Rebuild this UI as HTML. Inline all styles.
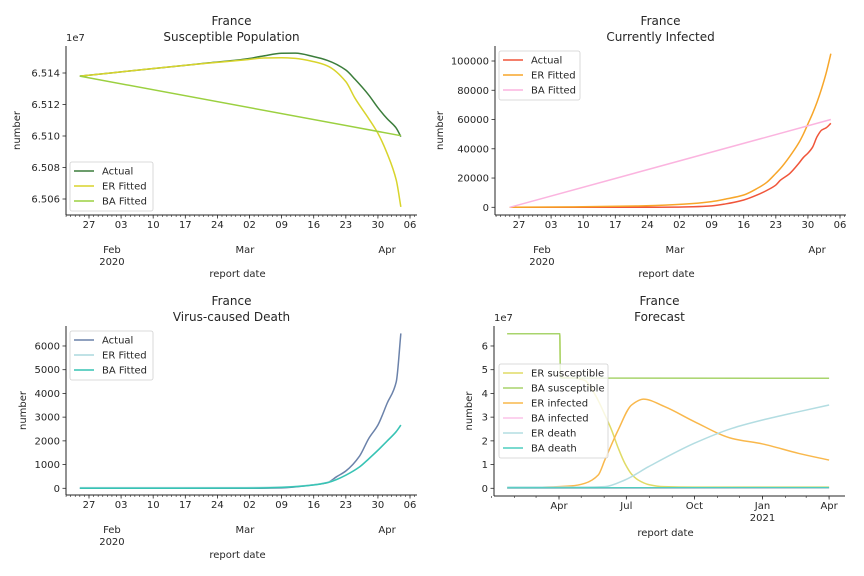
<!DOCTYPE html>
<html><head><meta charset="utf-8">
<style>
body{margin:0;background:#fff;}
svg{display:block;font-family:"DejaVu Sans","Liberation Sans",sans-serif;}
</style></head>
<body>
<svg id="chart" width="864" height="576" viewBox="0 0 864 576" xmlns="http://www.w3.org/2000/svg"></svg>
<script>
// ---- data ----
const suscDates = ['01-25','02-01','02-08','02-15','02-22','03-01','03-05','03-09','03-12','03-16','03-19','03-23','03-25','03-28','03-30','04-01','04-03','04-04'];
const suscActual = [65138000,65140100,65142200,65144300,65146400,65148800,65150800,65152500,65152600,65150400,65148000,65141900,65136000,65126000,65118000,65111000,65105000,65099600];
const suscER = [65138000,65140100,65142200,65144300,65146300,65148300,65149500,65149700,65149300,65147200,65144500,65134500,65124000,65111000,65101700,65089000,65072000,65055000];
const suscBADates = ['01-25','04-04'];
const suscBA = [65138000,65100200];

const infDates = ['01-25','02-08','02-22','03-01','03-05','03-09','03-12','03-16','03-19','03-21','03-23','03-24','03-26','03-28','03-29','03-30','03-31','04-01','04-02','04-03','04-04'];
const infActual = [0,0,0,100,400,1000,2300,5000,8500,11500,15200,18500,23000,30000,34000,37000,41000,48300,52800,54400,57400];
const infER = [0,300,900,1800,2600,3900,5600,8400,13000,17000,23200,26500,34600,44000,50000,57000,64000,72000,81300,92000,105000];
const infBADates = ['01-25','04-04'];
const infBA = [0,60000];

const deathDates = ['01-25','02-15','03-01','03-09','03-16','03-19','03-21','03-23','03-26','03-28','03-30','04-01','04-03','04-04'];
const deathActual = [0,0,0,20,150,240,490,730,1360,2100,2670,3580,4490,6530];
const deathER = [30,30,30,50,150,250,380,560,910,1250,1615,2000,2400,2670];
const deathBA = [0,0,5,40,140,240,370,550,900,1240,1600,1990,2390,2660];

const fcERSDates = ['2020-01-22','2020-04-02','2020-04-03','2020-04-20','2020-05-06','2020-05-15','2020-05-24','2020-06-02','2020-06-11','2020-06-20','2020-06-29','2020-07-08','2020-07-17','2020-08-01','2020-08-20','2020-10-01','2021-04-01'];
const fcERS = [65140000,65140000,47000000,46500000,45500000,42000000,37000000,31000000,24600000,17000000,10500000,6000000,3500000,1500000,700000,500000,500000];
const fcBASDates = ['2020-01-22','2020-04-02','2020-04-03','2021-04-01'];
const fcBAS = [65140000,65140000,46500000,46400000];
const fcERIDates = ['2020-01-22','2020-04-18','2020-05-06','2020-05-24','2020-06-02','2020-06-20','2020-07-08','2020-07-24','2020-08-22','2020-10-01','2020-11-21','2021-01-01','2021-02-19','2021-04-01'];
const fcERI = [0,1000000,2100000,5600000,12000000,24600000,35100000,37600000,34400000,28100000,21000000,18700000,14700000,11900000];
const fcBAIDates = ['2020-01-22','2021-04-01'];
const fcBAI = [0,100000];
const fcERDDates = ['2020-01-22','2020-05-06','2020-06-02','2020-06-29','2020-07-31','2020-10-01','2020-11-21','2021-01-01','2021-02-19','2021-04-01'];
const fcERD = [500000,500000,700000,3500000,9100000,19000000,25300000,28800000,32300000,35100000];
const fcBADDates = ['2020-01-22','2021-04-01'];
const fcBAD = [200000,300000];

// ---- helpers ----
const svg = document.getElementById('chart');
const NS = 'http://www.w3.org/2000/svg';
function mk(tag, attrs, parent){const e=document.createElementNS(NS,tag);for(const k in attrs)e.setAttribute(k,attrs[k]);(parent||svg).appendChild(e);return e;}
function txt(x,y,s,anchor,size,parent){const t=mk('text',{x:x,y:y,'text-anchor':anchor||'middle','font-size':size||10,fill:'#262626'},parent);t.textContent=s;return t;}
function doy(s){const p=s.split('-').map(Number);let y,m,d;if(p.length===3){[y,m,d]=p;}else{y=2020;[m,d]=p;}return (Date.UTC(y,m-1,d)-Date.UTC(2020,0,1))/86400000;}

// monotone cubic path (no overshoot)
function monoPath(P){
  const n=P.length; if(n<3) return 'M'+P.map(p=>p[0].toFixed(2)+','+p[1].toFixed(2)).join(' L');
  const dx=[],dy=[],m=[],t=[];
  for(let i=0;i<n-1;i++){dx.push(P[i+1][0]-P[i][0]);dy.push(P[i+1][1]-P[i][1]);m.push(dy[i]/dx[i]);}
  t[0]=m[0];t[n-1]=m[n-2];
  for(let i=1;i<n-1;i++){ if(m[i-1]*m[i]<=0) t[i]=0; else { const w1=2*dx[i]+dx[i-1], w2=dx[i]+2*dx[i-1]; t[i]=(w1+w2)/(w1/m[i-1]+w2/m[i]); } }
  let d='M'+P[0][0].toFixed(2)+','+P[0][1].toFixed(2);
  for(let i=0;i<n-1;i++){const h=dx[i]/3;
    d+=' C'+(P[i][0]+h).toFixed(2)+','+(P[i][1]+t[i]*h).toFixed(2)+' '+(P[i+1][0]-h).toFixed(2)+','+(P[i+1][1]-t[i+1]*h).toFixed(2)+' '+P[i+1][0].toFixed(2)+','+P[i+1][1].toFixed(2);}
  return d;
}

function panel(cfg){
  const g = mk('g',{});
  
  
  const {L,R,T,B} = cfg;
  const xs = cfg.xs, ys = cfg.ys;
  const t1 = txt((L+R)/2 - 10, cfg.titleY, 'France', 'middle', 12, g);
  
  
  const t2 = txt((L+R)/2 - 10, cfg.titleY+16, cfg.title, 'middle', 12, g);
  
  
  cfg.yTicks.forEach((v,i)=>{
    const y = ys(v);
    mk('line',{x1:L-3.5,x2:L,y1:y,y2:y,stroke:'#262626','stroke-width':0.8},g);
    const lb = txt(L-6, y+3.5, cfg.yTickLabels[i], 'end', 10, g);
    
    
  });
  if(cfg.offset){const o=txt(L,T-5,cfg.offset,'start',10,g);}
  const yl = txt(0,0,'number','middle',10,g);
  yl.setAttribute('transform','translate('+(cfg.yLabelX)+','+((T+B)/2)+') rotate(-90)');
  
  
  cfg.minor.forEach(d=>{const x=xs(d);mk('line',{x1:x,x2:x,y1:B,y2:B+2,stroke:'#262626','stroke-width':0.6},g);});
  cfg.major.forEach((d,i)=>{const x=xs(d);mk('line',{x1:x,x2:x,y1:B,y2:B+3.5,stroke:'#262626','stroke-width':0.8},g);
    const lb=txt(x,B+13,cfg.majorLabels[i],'middle',10,g);
    
    
    if(cfg.majorSub && cfg.majorSub[i]){txt(x,B+25,cfg.majorSub[i],'middle',10,g);}
  });
  (cfg.months||[]).forEach((m,i)=>{const x=xs(m.d);
    const lb=txt(x,B+38,m.l,'middle',10,g);
    
    
    if(m.s) txt(x,B+50,m.s,'middle',10,g);
  });
  const xl = txt((L+R)/2-4, cfg.xLabelY, 'report date','middle',10,g);
  
  
  cfg.series.forEach(s=>{
    const P = s.dates.map((d,i)=>[xs(doy(d)), ys(s.vals[i])]);
    const pl = mk('path',{d:monoPath(P),fill:'none',stroke:s.color,'stroke-width':1.5,'stroke-linejoin':'round'},g);
    
    
  });
  mk('line',{x1:L,x2:L,y1:T,y2:B,stroke:'#262626','stroke-width':1},g);
  mk('line',{x1:L,x2:R,y1:B,y2:B,stroke:'#262626','stroke-width':1},g);
  const lg = mk('g',{},g);
  
  
  const n = cfg.series.length;
  mk('rect',{x:cfg.lgX,y:cfg.lgY,width:cfg.lgW,height:n*15+4,fill:'#fff','fill-opacity':0.8,stroke:'#d0d0d0','stroke-width':0.8,rx:2},lg);
  cfg.series.forEach((s,i)=>{
    const y = cfg.lgY+9+i*15;
    mk('line',{x1:cfg.lgX+4,x2:cfg.lgX+24,y1:y,y2:y,stroke:s.color,'stroke-width':1.5},lg);
    const lb = txt(cfg.lgX+32,y+3.5,s.label,'start',10,lg);
    
    
  });
}

const dayMinor=[];for(let d=21;d<=97;d++)dayMinor.push(d);
const weekMajor=[26,33,40,47,54,61,68,75,82,89,96];
const weekLabels=['27','03','10','17','24','02','09','16','23','30','06'];
const months=[{d:31,l:'Feb',s:'2020'},{d:60,l:'Mar'},{d:91,l:'Apr'}];
const PXD = 4.586;

panel({name:'susceptible-panel',L:66,R:417,T:46,B:215,titleY:25,title:'Susceptible Population',
  xs:d=>89+(d-26)*PXD, ys:v=>73+(65140000-v)/1000*1.575,
  yTicks:[65140000,65120000,65100000,65080000,65060000], yTickLabels:['6.514','6.512','6.510','6.508','6.506'],
  offset:'1e7', yLabelX:20, minor:dayMinor, major:weekMajor, majorLabels:weekLabels, months:months, xLabelY:277,
  lgX:70,lgY:162,lgW:83,
  series:[{id:'line-actual-susceptible',label:'Actual',color:'#3b7d3b',dates:suscDates,vals:suscActual},
          {id:'line-er-fitted-susceptible',label:'ER Fitted',color:'#d8d42c',dates:suscDates,vals:suscER},
          {id:'line-ba-fitted-susceptible',label:'BA Fitted',color:'#9bd040',dates:suscBADates,vals:suscBA}]});

panel({name:'infected-panel',L:495,R:846,T:46,B:215,titleY:25,title:'Currently Infected',
  xs:d=>519+(d-26)*PXD, ys:v=>207.3-v*0.001463,
  yTicks:[0,20000,40000,60000,80000,100000], yTickLabels:['0','20000','40000','60000','80000','100000'],
  yLabelX:443, minor:dayMinor, major:weekMajor, majorLabels:weekLabels, months:months, xLabelY:277,
  lgX:499,lgY:51,lgW:81,
  series:[{id:'line-actual-infected',label:'Actual',color:'#f0553a',dates:infDates,vals:infActual},
          {id:'line-er-fitted-infected',label:'ER Fitted',color:'#f7a62a',dates:infDates,vals:infER},
          {id:'line-ba-fitted-infected',label:'BA Fitted',color:'#fbb4df',dates:infBADates,vals:infBA}]});

panel({name:'death-panel',L:66,R:417,T:326,B:495,titleY:305,title:'Virus-caused Death',
  xs:d=>89+(d-26)*PXD, ys:v=>488.3-v*0.02372,
  yTicks:[0,1000,2000,3000,4000,5000,6000], yTickLabels:['0','1000','2000','3000','4000','5000','6000'],
  yLabelX:26, minor:dayMinor, major:weekMajor, majorLabels:weekLabels, months:months, xLabelY:558,
  lgX:70,lgY:331,lgW:83,
  series:[{id:'line-actual-death',label:'Actual',color:'#6b82aa',dates:deathDates,vals:deathActual},
          {id:'line-er-fitted-death',label:'ER Fitted',color:'#abd9de',dates:deathDates,vals:deathER},
          {id:'line-ba-fitted-death',label:'BA Fitted',color:'#36c4b4',dates:deathDates,vals:deathBA}]});

const fcMinor=[];for(let m=0;m<=15;m++){fcMinor.push(doy((2020+Math.floor(m/12))+'-'+String(m%12+1).padStart(2,'0')+'-01'));}
const fcMajor=[doy('2020-04-01'),doy('2020-07-01'),doy('2020-10-01'),doy('2021-01-01'),doy('2021-04-01')];
panel({name:'forecast-panel',L:494,R:845,T:326,B:496,titleY:305,title:'Forecast',
  xs:d=>559+(d-91)*0.74, ys:v=>488.3-v*0.000002372,
  yTicks:[0,10000000,20000000,30000000,40000000,50000000,60000000], yTickLabels:['0','1','2','3','4','5','6'],
  offset:'1e7', yLabelX:472, minor:fcMinor, major:fcMajor, majorLabels:['Apr','Jul','Oct','Jan','Apr'], majorSub:['','','','2021',''], xLabelY:536,
  lgX:499,lgY:364,lgW:109,
  series:[{id:'line-er-susceptible',label:'ER susceptible',color:'#e0db66',dates:fcERSDates,vals:fcERS},
          {id:'line-ba-susceptible',label:'BA susceptible',color:'#a8d46c',dates:fcBASDates,vals:fcBAS},
          {id:'line-er-infected',label:'ER infected',color:'#f9b84c',dates:fcERIDates,vals:fcERI},
          {id:'line-ba-infected',label:'BA infected',color:'#fcc4e8',dates:fcBAIDates,vals:fcBAI},
          {id:'line-er-death',label:'ER death',color:'#b3dde2',dates:fcERDDates,vals:fcERD},
          {id:'line-ba-death',label:'BA death',color:'#4fcdbf',dates:fcBADDates,vals:fcBAD}]});
</script>
</body></html>
